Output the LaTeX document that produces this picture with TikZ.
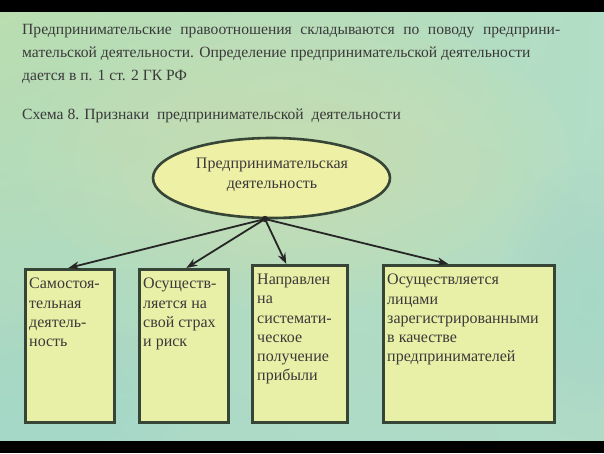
\documentclass[tikz,border=0pt]{standalone}
\usepackage{fontspec}
\setmainfont{Liberation Serif}
\usetikzlibrary{arrows.meta,calc,shapes.geometric,shadings}
\definecolor{bgUL}{HTML}{BADDB0}
\definecolor{bgUR}{HTML}{B2DDC6}
\definecolor{bgLL}{HTML}{AAD9C8}
\definecolor{bgLR}{HTML}{B0DCC6}
\definecolor{bgmid}{HTML}{D8E8AE}
\definecolor{bgcyan}{HTML}{A6D8CE}
\definecolor{boxfill}{HTML}{E8EFA6}
\definecolor{ellfill}{HTML}{EEF0A6}
\definecolor{edge}{HTML}{364536}
\definecolor{ink}{HTML}{3A3A3A}
\tikzset{
  txt/.style={inner sep=0pt, text=ink, font=\fontsize{15.6}{22.5}\selectfont, align=left},
  bt/.style={inner sep=0pt, text=ink, font=\fontsize{16}{19.2}\selectfont, align=left, anchor=north west},
  box/.style={draw=edge, line width=2.6pt, fill=boxfill, anchor=north west, inner sep=0pt},
  ell/.style={ellipse, draw=edge, line width=2.6pt, fill=ellfill, inner sep=0pt},
  et/.style={inner sep=0pt, text=ink, font=\fontsize{16}{20}\selectfont, align=center},
  arr/.style={draw=black!85, line width=1.8pt, -{Stealth[length=11pt,width=8pt]}}
}
\begin{document}
\begin{tikzpicture}[x=1pt,y=-1pt]
\useasboundingbox (0,0) rectangle (604,453);
\fill[black] (0,0) rectangle (604,453);
\shade[upper left=bgUL, upper right=bgUR, lower left=bgLL, lower right=bgLR] (0,12) rectangle (604,440);
\begin{scope}
\clip (0,12) rectangle (604,440);
\foreach \i in {1,...,12} {
  \fill[bgmid, opacity=0.07] (300,160) ellipse ({270*\i/12} and {150*\i/12});
}
\foreach \i in {1,...,10} {
  \fill[bgcyan, opacity=0.07] (50,400) ellipse ({140*\i/10} and {90*\i/10});
  \fill[bgcyan, opacity=0.06] (590,300) ellipse ({90*\i/10} and {140*\i/10});
}
\end{scope}

\node[txt, anchor=base west] (t1) at (22,34.5) {\makebox[538pt][s]{Предпринимательские правоотношения складываются по поводу предприни-}};
\node[txt, anchor=base west] (t2) at (22,57.5) {мательской деятельности. Определение предпринимательской деятельности};
\node[txt, anchor=base west] (t3) at (22,80) {дается в п. 1 ст. 2 ГК РФ};
\node[txt, anchor=base west] (t4) at (22,119.5) {Схема 8. Признаки\ \ предпринимательской\ \ деятельности};

\node[ell, minimum width=237, minimum height=80] (e) at (271.5,178) {};
\node[et] (etxt) at (272,174.5) {Предпринимательская\\деятельность};

\node[box, minimum width=89, minimum height=153] (b1) at (24,268) {};
\node[box, minimum width=89, minimum height=153] (b2) at (138,268) {};
\node[box, minimum width=95, minimum height=157] (b3) at (251,264) {};
\node[box, minimum width=171, minimum height=157] (b4) at (382,264) {};

\coordinate (hub) at (265,219);
\draw[arr] (hub) -- ($(b1.north)+(-1.5,0)$);
\draw[arr] (hub) -- ($(b2.north)+(2.5,0)$);
\draw[arr] (hub) -- ($(b3.north)+(-13.5,0)$);
\draw[arr] (hub) -- ($(b4.north)+(-20.5,0)$);
\fill[black!85] (hub) circle (3.2);

\node[bt] (l1) at (29,278) {Самостоя-\\тельная\\деятель-\\ность};
\node[bt] (l2) at (143,278) {Осуществ-\\ляется на\\свой страх\\и риск};
\node[bt] (l3) at (257,274) {Направлен\\на\\системати-\\ческое\\получение\\прибыли};
\node[bt] (l4) at (387,274) {Осуществляется\\лицами\\зарегистрированными\\в качестве\\предпринимателей};
\end{tikzpicture}
\end{document}
